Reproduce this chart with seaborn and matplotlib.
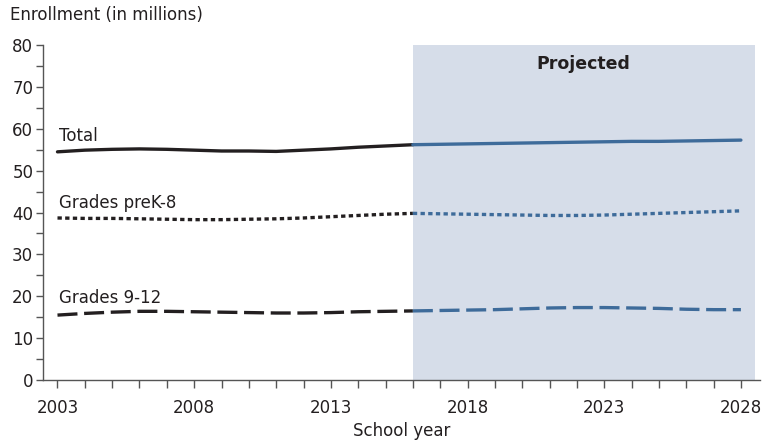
import pandas as pd
import seaborn as sns
import matplotlib.pyplot as plt

# años reales y proyectados (2016 aparece en los dos para unir las lineas)
years_actual = [2003, 2004, 2005, 2006, 2007, 2008, 2009, 2010, 2011, 2012, 2013, 2014, 2015, 2016]
years_proj = [2016, 2017, 2018, 2019, 2020, 2021, 2022, 2023, 2024, 2025, 2026, 2027, 2028]

total_actual = [54.5, 54.9, 55.1, 55.2, 55.1, 54.9, 54.7, 54.7, 54.6, 54.9, 55.2, 55.6, 55.9, 56.2]
total_proj = [56.2, 56.3, 56.4, 56.5, 56.6, 56.7, 56.8, 56.9, 57.0, 57.0, 57.1, 57.2, 57.3]

prek8_actual = [38.7, 38.6, 38.6, 38.5, 38.4, 38.3, 38.3, 38.4, 38.5, 38.7, 39.0, 39.3, 39.6, 39.8]
prek8_proj = [39.8, 39.7, 39.6, 39.5, 39.4, 39.3, 39.3, 39.4, 39.6, 39.8, 40.0, 40.2, 40.4]

g912_actual = [15.5, 15.9, 16.2, 16.4, 16.4, 16.3, 16.2, 16.1, 16.0, 16.0, 16.1, 16.3, 16.4, 16.5]
g912_proj = [16.5, 16.6, 16.7, 16.8, 17.0, 17.2, 17.3, 17.3, 17.2, 17.1, 16.9, 16.8, 16.8]

series_labels = ["Total", "Grades preK-8", "Grades 9-12"]
label_y = [57.1, 41.0, 18.3]
xtick_labels = ["2003", "2008", "2013", "2018", "2023", "2028"]

# armar tabla larga
rows = []
datos = {
    "Total": (total_actual, total_proj),
    "Grades preK-8": (prek8_actual, prek8_proj),
    "Grades 9-12": (g912_actual, g912_proj),
}
for nombre, (act, proj) in datos.items():
    for y, v in zip(years_actual, act):
        rows.append({"year": y, "value": v, "series": nombre, "period": "Actual"})
    for y, v in zip(years_proj, proj):
        rows.append({"year": y, "value": v, "series": nombre, "period": "Projected"})
df = pd.DataFrame(rows)

sns.set_style("ticks")
plt.rcParams["font.family"] = ["DejaVu Sans"]
text_color = "#231f20"
fs = 12

fig = plt.figure(figsize=(7.72, 4.42), dpi=100)
ax = fig.add_axes([0.0557, 0.1403, 0.9288, 0.7577])

# zona proyectada
ax.axvspan(2016, 2028.5, color="#d6dde9", zorder=0, lw=0)

sns.lineplot(
    data=df, x="year", y="value", hue="period", style="series",
    palette={"Actual": "#231f20", "Projected": "#3e6b9a"},
    dashes={"Total": "", "Grades preK-8": (1.3, 1.0), "Grades 9-12": (6.0, 2.0)},
    estimator=None, linewidth=2.4, legend=False, ax=ax, zorder=3,
)

for nombre, yy in zip(series_labels, label_y):
    ax.text(2003.05, yy, nombre, fontsize=fs, color=text_color, va="baseline", ha="left")

ax.text(2022.25, 74.4, "Projected", fontsize=12.5, fontweight="bold",
        color=text_color, ha="center", va="baseline")

ax.set_xlim(2002.47, 2028.7)
ax.set_ylim(0, 80)
ax.set_xticks(range(2003, 2029))
ax.set_xticklabels([str(y) if str(y) in xtick_labels else "" for y in range(2003, 2029)])
ax.set_yticks(range(0, 81, 5))
ax.set_yticklabels([str(v) if v % 10 == 0 else "" for v in range(0, 81, 5)])

ax.tick_params(axis="x", length=6, width=1, color="#555555", pad=8,
               labelsize=fs, labelcolor=text_color)
ax.tick_params(axis="y", length=5, width=1, color="#555555", pad=2,
               labelsize=fs, labelcolor=text_color)

for lado in ["top", "right"]:
    ax.spines[lado].set_visible(False)
for lado in ["left", "bottom"]:
    ax.spines[lado].set_color("#555555")
    ax.spines[lado].set_linewidth(1)

ax.set_xlabel("School year", fontsize=fs, color=text_color, labelpad=3)
ax.set_ylabel("")
fig.text(10 / 772, 1 - 20 / 442, "Enrollment (in millions)", fontsize=fs,
         color=text_color, ha="left", va="baseline")

fig.savefig("out.png", dpi=100)
